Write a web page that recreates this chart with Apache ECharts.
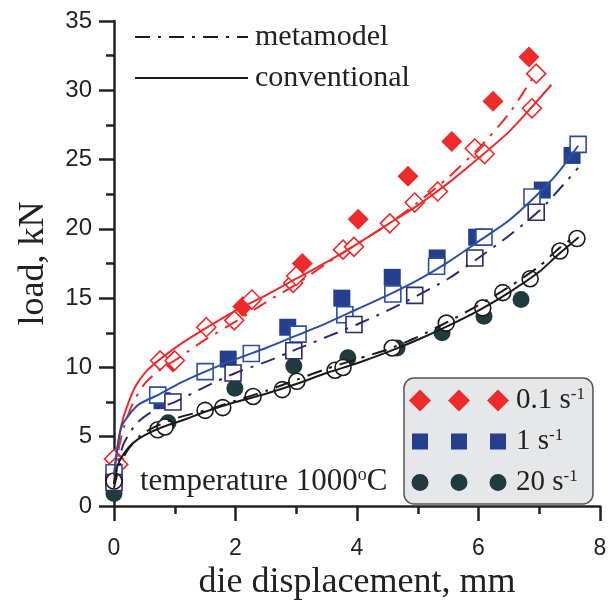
<!DOCTYPE html>
<html>
<head>
<meta charset="utf-8">
<script src="https://cdn.jsdelivr.net/npm/echarts@6/dist/echarts.min.js"></script>
<style>
html, body { margin: 0; padding: 0; background: #fff; }
#chart { width: 616px; height: 601px; }
</style>
</head>
<body>
<div id="chart"></div>
<script>
// load vs die displacement, temperature 1000 C
// axes
const xTicks = [0, 2, 4, 6, 8]
const yTicks = [0, 5, 10, 15, 20, 25, 30, 35]

// 0.1 1/s
const redExp = [[0.97, 10.4], [2.12, 14.4], [3.1, 17.5], [4.02, 20.7], [4.84, 23.8], [5.56, 26.3], [6.24, 29.2], [6.83, 32.4]]
const redOpen = [[0, 3.4], [0.07, 3.0], [0.76, 10.5], [1.0, 10.5], [1.52, 12.9], [1.98, 13.4], [2.27, 14.9], [2.95, 16.1], [3.0, 16.6],
  [3.77, 18.5], [3.95, 18.7], [4.54, 20.4], [4.95, 21.9], [5.33, 22.7], [5.94, 25.8], [6.1, 25.4], [6.88, 28.7], [6.95, 31.2]]
const redConv = [[0, 2.2], [0.05, 4.0], [0.12, 5.8], [0.2, 7.0], [0.35, 8.6], [0.55, 9.8], [0.76, 10.6], [1.1, 11.7], [1.5, 12.8],
  [2.0, 14.1], [2.5, 15.2], [3.0, 16.4], [3.5, 17.6], [4.0, 18.9], [4.5, 20.3], [5.0, 21.7], [5.5, 23.3], [6.0, 25.1], [6.5, 27.0],
  [6.9, 28.9], [7.2, 30.4]]
const redMeta = [[0, 1.6], [0.05, 3.5], [0.15, 5.5], [0.3, 7.3], [0.5, 8.8], [0.8, 10.0], [1.0, 10.5], [1.5, 12.0], [2.0, 13.3],
  [2.5, 14.7], [3.0, 16.0], [3.5, 17.5], [4.0, 18.9], [4.5, 20.3], [5.0, 21.9], [5.5, 23.7], [6.0, 25.8], [6.5, 28.3], [6.95, 31.3]]

// 1 1/s
const blueExp = [[0, 2.0], [0.79, 7.6], [1.88, 10.6], [2.86, 12.9], [3.75, 15.0], [4.58, 16.5], [5.32, 17.9], [5.97, 19.4], [7.05, 22.8], [7.54, 25.3]]
const blueConvOpen = [[0, 2.4], [0.72, 8.0], [1.5, 9.7], [2.26, 11.0], [3.03, 12.4], [3.8, 13.8], [4.59, 15.3], [5.31, 17.3], [6.09, 19.4], [6.88, 22.3], [7.64, 26.1]]
const blueMetaOpen = [[0, 1.7], [0.97, 7.5], [1.96, 9.6], [2.96, 11.2], [3.95, 13.1], [4.95, 15.2], [5.94, 17.9], [6.95, 21.2]]
const blueConv = [[0, 2.2], [0.05, 4.0], [0.13, 5.8], [0.4, 7.3], [0.72, 8.0], [1.1, 8.9], [1.5, 9.7], [2.0, 10.6], [2.5, 11.4],
  [3.0, 12.3], [3.5, 13.2], [4.0, 14.2], [4.5, 15.2], [5.0, 16.3], [5.5, 17.6], [6.0, 19.1], [6.5, 20.6], [7.0, 22.6], [7.3, 24.0], [7.64, 26.0]]
const blueMeta = [[0, 1.6], [0.15, 4.4], [0.38, 6.0], [0.7, 7.0], [1.0, 7.5], [1.5, 8.6], [2.0, 9.6], [2.5, 10.4], [3.0, 11.3], [3.5, 12.2],
  [4.0, 13.1], [4.5, 14.1], [5.0, 15.2], [5.5, 16.4], [6.0, 17.9], [6.5, 19.5], [7.0, 21.3], [7.4, 23.2], [7.64, 24.4]]

// 20 1/s
const tealExp = [[0, 0.9], [0.89, 6.0], [1.99, 8.5], [2.96, 10.1], [3.85, 10.7], [4.66, 11.4], [5.4, 12.5], [6.09, 13.7], [6.7, 14.9]]
const blackOpen = [[0, 1.8], [0.72, 5.5], [0.84, 5.7], [1.5, 6.9], [1.79, 7.1], [2.29, 7.9], [2.77, 8.4], [3.01, 9.0], [3.64, 9.8],
  [3.77, 10.0], [4.58, 11.4], [5.47, 13.2], [6.07, 14.3], [6.4, 15.4], [6.85, 16.4], [7.34, 18.4], [7.62, 19.3]]
const blackConv = [[0, 1.6], [0.05, 2.8], [0.15, 3.7], [0.3, 4.5], [0.5, 5.1], [0.8, 5.7], [1.2, 6.3], [1.5, 6.8], [2.0, 7.5], [2.5, 8.1],
  [3.0, 8.8], [3.5, 9.6], [4.0, 10.3], [4.5, 11.1], [5.0, 12.0], [5.5, 13.0], [6.0, 14.1], [6.5, 15.4], [7.0, 16.9], [7.3, 18.1], [7.65, 19.4]]
const blackMeta = [[0, 1.3], [0.1, 3.0], [0.25, 4.2], [0.5, 5.3], [1.0, 6.3], [1.5, 6.9], [2.0, 7.6], [2.5, 8.3], [3.0, 9.1], [3.5, 9.9],
  [4.0, 10.6], [4.5, 11.3], [5.0, 12.2], [5.5, 13.3], [6.0, 14.5], [6.5, 15.8], [7.0, 17.3], [7.3, 18.5], [7.6, 19.5]]

const RED = '#ee2a2a'
const BLUE = '#2c4fa6'
const NAVY = '#2e2b6e'
const BLUE_FILL = '#253f8f'
const TEAL = '#1f3b3e'
const BLACK = '#1a1a1a'
const DASHDOT = [15, 8, 3, 8]
const SERIF = '"Liberation Serif", "Times New Roman", serif'
const SANS = '"Liberation Sans", Arial, sans-serif'

// legend icons: three markers in a row
const diamonds = 'path://M0,11L11,0L22,11L11,22Z M39,11L50,0L61,11L50,22Z M78,11L89,0L100,11L89,22Z'
const squares = 'path://M0,0 M3,3H19V19H3Z M42,3H58V19H42Z M81,3H97V19H81Z M100,22'
const circles = 'path://M0,0 M2.5,11a8.5,8.5 0 1,0 17,0a8.5,8.5 0 1,0 -17,0Z M41.5,11a8.5,8.5 0 1,0 17,0a8.5,8.5 0 1,0 -17,0Z M80.5,11a8.5,8.5 0 1,0 17,0a8.5,8.5 0 1,0 -17,0Z M100,22'

function line(name, data, color, dashed) {
  return {
    name: name, type: 'line', data: data, smooth: 0.25,
    symbol: 'none', z: 5,
    lineStyle: { color: color, width: 2, type: dashed ? DASHDOT : 'solid' },
    itemStyle: { color: color }
  }
}
function marks(name, data, symbol, size, color, open) {
  return {
    name: name, type: 'scatter', data: data, symbol: symbol, symbolSize: size,
    z: open ? 4 : 3,
    itemStyle: open ? { color: '#fff', borderColor: color, borderWidth: 1.6, opacity: 1 } : { color: color, opacity: 1 }
  }
}

const chart = echarts.init(document.getElementById('chart'))
const option = {
  animation: false,
  grid: { left: 114, right: 16, top: 21, bottom: 95, outerBoundsMode: 'none' },
  xAxis: {
    type: 'value', min: 0, max: 8, interval: 2,
    name: 'die displacement, mm', nameLocation: 'middle', nameGap: 52,
    nameTextStyle: { fontFamily: SERIF, fontSize: 36, color: '#222' },
    axisLine: { lineStyle: { color: '#222', width: 2.5 } },
    axisTick: { length: 15, lineStyle: { color: '#222', width: 2.5 } },
    minorTick: { show: true, splitNumber: 2, length: 8, lineStyle: { color: '#222', width: 2.5 } },
    axisLabel: { fontFamily: SANS, fontSize: 23, color: '#222', margin: 31,
      formatter: v => xTicks.includes(v) ? String(v) : '' },
    splitLine: { show: false }
  },
  yAxis: {
    type: 'value', min: 0, max: 35, interval: 5,
    name: 'load, kN', nameLocation: 'middle', nameGap: 62,
    nameTextStyle: { fontFamily: SERIF, fontSize: 36, color: '#222' },
    axisLine: { show: true, lineStyle: { color: '#222', width: 2.5 } },
    axisTick: { show: true, length: 15, lineStyle: { color: '#222', width: 2.5 } },
    minorTick: { show: true, splitNumber: 2, length: 8, lineStyle: { color: '#222', width: 2.5 } },
    axisLabel: { fontFamily: SANS, fontSize: 24, color: '#222', margin: 22,
      formatter: v => yTicks.includes(v) ? String(v) : '' },
    splitLine: { show: false }
  },
  legend: [
    {
      left: 129, top: 17, orient: 'vertical', itemWidth: 113, itemHeight: 20, itemGap: 11,
      data: ['metamodel', 'conventional'],
      itemStyle: { opacity: 0 },
      textStyle: { fontFamily: SERIF, fontSize: 30, color: '#222', padding: [0, 0, 0, 2] }
    },
    {
      left: 404, top: 378, width: 192, orient: 'vertical', itemWidth: 100, itemHeight: 22, itemGap: 12,
      padding: [8, 8, 7, 5],
      backgroundColor: '#e6e7e8', borderColor: '#555', borderWidth: 1.5, borderRadius: 10,
      data: [
        { name: '0.1', icon: diamonds },
        { name: '1', icon: squares },
        { name: '20', icon: circles }
      ],
      formatter: name => '{t|' + name + ' s}{s|-1}',
      textStyle: {
        color: '#222', padding: [0, 0, 0, 2],
        rich: {
          t: { fontFamily: SERIF, fontSize: 29, color: '#222' },
          s: { fontFamily: SERIF, fontSize: 17, color: '#222', padding: [0, 0, 12, 0] }
        }
      }
    }
  ],
  graphic: [
    {
      type: 'text', left: 140, top: 466, z: 10,
      style: {
        text: '{t|temperature 1000}{s|o}{t|C}',
        rich: {
          t: { fontFamily: SERIF, fontSize: 31, fill: '#222' },
          s: { fontFamily: SERIF, fontSize: 18, fill: '#222', padding: [0, 0, 13, 0] }
        }
      }
    }
  ],
  series: [
    marks('0.1', redExp, 'diamond', [21, 21], RED, false),
    marks('1', blueExp, 'rect', [17, 17], BLUE_FILL, false),
    marks('20', tealExp, 'circle', 17, TEAL, false),
    marks('redOpen', redOpen, 'diamond', [19, 19], RED, true),
    marks('blueConvOpen', blueConvOpen, 'rect', [16, 16], BLUE, true),
    marks('blueMetaOpen', blueMetaOpen, 'rect', [16, 16], NAVY, true),
    marks('blackOpen', blackOpen, 'circle', 16, BLACK, true),
    line('redConv', redConv, RED, false),
    line('redMeta', redMeta, RED, true),
    line('blueConv', blueConv, BLUE, false),
    line('blueMeta', blueMeta, NAVY, true),
    line('conventional', blackConv, BLACK, false),
    line('metamodel', blackMeta, BLACK, true)
  ]
}
chart.setOption(option)
</script>
</body>
</html>
